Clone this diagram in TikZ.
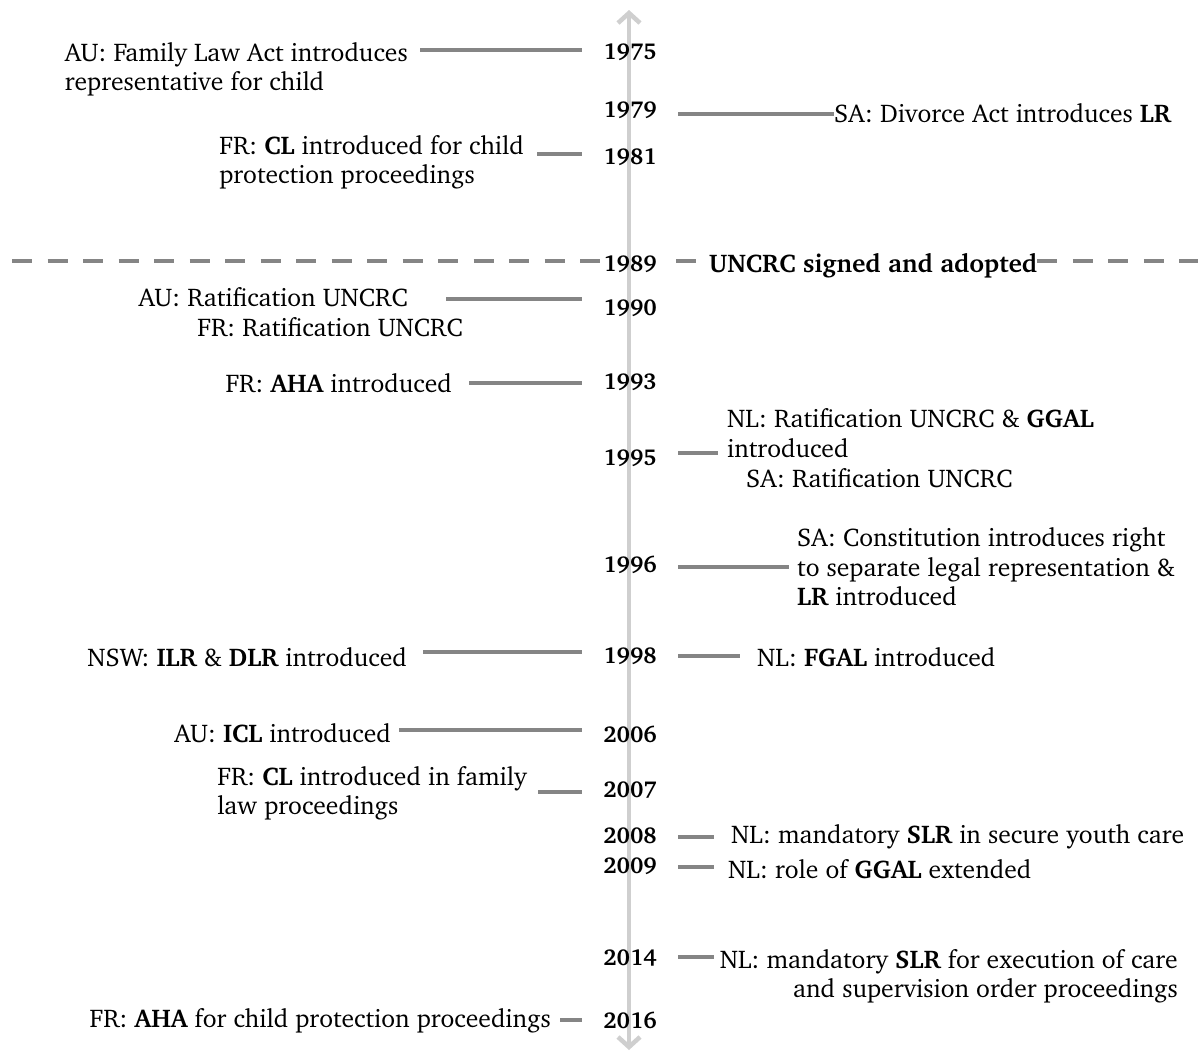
\documentclass[tikz,border=0pt]{standalone}
\usepackage[T1]{fontenc}
\usepackage{charter}
\usetikzlibrary{arrows.meta}
\definecolor{axisgray}{HTML}{CFCFCF}
\definecolor{conngray}{HTML}{858585}
\begin{document}
\begin{tikzpicture}[x=1pt,y=-1pt,
  every node/.style={inner sep=0pt, font=\fontsize{25.6}{29.5}\selectfont},
  year/.style={font=\fontsize{23}{29}\selectfont\bfseries, minimum width=96pt, align=center},
  ltxt/.style={anchor=east, align=left},
  rtxt/.style={anchor=west, align=left},
  conn/.style={draw=conngray, line width=4.5pt},
  axisline/.style={draw=axisgray, line width=4.5pt,
     {Straight Barb[length=10pt,width=22pt]}-{Straight Barb[length=10pt,width=22pt]}},
  uline/.style={draw=conngray, line width=4.5pt, dash pattern=on 20pt off 15.5pt}]
\useasboundingbox (0,0) rectangle (1198,1053);

% axis
\coordinate (axtop) at (629,10);
\coordinate (axbot) at (629,1050);
\draw[axisline] (axbot) -- (axtop);

% years
\node[year] (y1975) at (630,52) {1975};
\node[year] (y1979) at (630,110) {1979};
\node[year] (y1981) at (630,157) {1981};
\node[year] (y1989) at (630,264) {1989};
\node[year] (y1990) at (630,308) {1990};
\node[year] (y1993) at (630,382) {1993};
\node[year] (y1995) at (630,458) {1995};
\node[year] (y1996) at (630,565) {1996};
\node[year] (y1998) at (630,656) {1998};
\node[year] (y2006) at (630,734) {2006};
\node[year] (y2007) at (630,790) {2007};
\node[year] (y2008) at (630,836) {2008};
\node[year] (y2009) at (630,866) {2009};
\node[year] (y2014) at (630,958) {2014};
\node[year] (y2016) at (630,1020) {2016};

% UNCRC line
\node[anchor=west, font=\fontsize{25.6}{29.5}\selectfont\bfseries] (tUN) at (709,266) {UNCRC signed and adopted};
\coordinate (dl) at (12,261);
\coordinate (dr) at (1198,261);
\draw[uline] (dl) -- ([xshift=18pt]dl -| y1989.west);
\draw[uline] ([xshift=-2pt]y1989.east |- dl) -- (tUN.west |- dl);
\draw[uline] (tUN.east |- dr) -- (dr);

% left texts (anchored at their right ends)
\node[ltxt] (tAU75) at (408,69) {AU: Family Law Act introduces\\representative for child};
\node[ltxt] (tFR81) at (524,162) {FR: \textbf{CL} introduced for child\\protection proceedings};
\node[ltxt] (tAU90) at (408,297) {AU: Ratification UNCRC};
\node[ltxt] (tFR90) at (463,327) {FR: Ratification UNCRC};
\node[ltxt] (tFR93) at (452,383) {FR: \textbf{AHA} introduced};
\node[ltxt] (tNSW) at (407,657) {NSW: \textbf{ILR} \& \textbf{DLR} introduced};
\node[ltxt] (tAU06) at (391,733) {AU: \textbf{ICL} introduced};
\node[ltxt] (tFR07) at (527,793) {FR: \textbf{CL} introduced in family\\law proceedings};
\node[ltxt] (tFR16) at (551,1021) {FR: \textbf{AHA} for child protection proceedings};

% right texts
\node[rtxt] (tSA79) at (834,113) {SA: Divorce Act introduces \textbf{LR}};
\node[rtxt] (tNL95) at (727,433) {NL: Ratification UNCRC \& \textbf{GGAL}\\introduced};
\node[rtxt] (tSA95) at (746,478) {SA: Ratification UNCRC};
\node[rtxt] (tSA96) at (797,567) {SA: Constitution introduces right\\to separate legal representation \&\\\textbf{LR} introduced};
\node[rtxt] (tNL98) at (757,657) {NL: \textbf{FGAL} introduced};
\node[rtxt] (tNL08) at (731,837) {NL: mandatory \textbf{SLR} in secure youth care};
\node[rtxt] (tNL09) at (728,869) {NL: role of \textbf{GGAL} extended};
\node[anchor=east, align=right] (tNL14) at (1178,976) {NL: mandatory \textbf{SLR} for execution of care\\and supervision order proceedings};

% left connectors
\coordinate (a1975) at (420,50);
\coordinate (a1981) at (537,154);
\coordinate (a1990) at (446,299);
\coordinate (a1993) at (469,383);
\coordinate (a1998) at (423,652);
\coordinate (a2006) at (399,730);
\coordinate (a2007) at (538,792);
\coordinate (a2016) at (560,1020);
\foreach \c/\y in {a1975/y1975,a1981/y1981,a1990/y1990,a1993/y1993,a1998/y1998,a2006/y2006,a2007/y2007,a2016/y2016}
  \draw[conn] (\c) -- (\c -| \y.west);

% right connectors
\coordinate (b1979) at (834,114);
\coordinate (b1995) at (718,453);
\coordinate (b1996) at (789,567);
\coordinate (b1998) at (740,656);
\coordinate (b2008) at (714,837);
\coordinate (b2009) at (714,867);
\coordinate (b2014) at (714,957);
\foreach \c/\y in {b1979/y1979,b1995/y1995,b1996/y1996,b1998/y1998,b2008/y2008,b2009/y2009,b2014/y2014}
  \draw[conn] (\y.east |- \c) -- (\c);
\end{tikzpicture}
\end{document}
